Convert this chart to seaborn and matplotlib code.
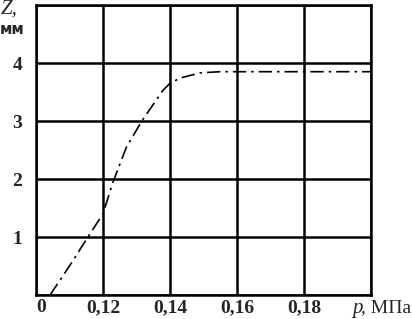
import numpy as np
import pandas as pd
import matplotlib
matplotlib.use("Agg")
import matplotlib.pyplot as plt
import seaborn as sns

# Curve (p in MPa, Z in mm); axis starts at "0" = 0.10
p_vals = [0.1042, 0.110, 0.1155, 0.120, 0.123, 0.127, 0.1316, 0.1379, 0.140, 0.143, 0.149, 0.155, 0.170, 0.200]
z_vals = [0.0, 0.50, 1.00, 1.40, 1.95, 2.55, 3.00, 3.53, 3.65, 3.74, 3.83, 3.85, 3.85, 3.85]
x_ticks = [0.10, 0.12, 0.14, 0.16, 0.18, 0.20]
x_labels = ["0", "0,12", "0,14", "0,16", "0,18", ""]
y_ticks = [0, 1, 2, 3, 4, 5]
y_labels = ["", "1", "2", "3", "4", ""]

df = pd.DataFrame({"p": p_vals, "Z": z_vals})

sns.set_style("white")
plt.rcParams["font.family"] = ["Liberation Serif", "DejaVu Serif"]

fig = plt.figure(figsize=(4.12, 3.19), dpi=100)
ax = fig.add_axes([36 / 412, 24 / 319, 335 / 412, 290 / 319])

sns.lineplot(data=df, x="p", y="Z", ax=ax, color="black", linewidth=1.2,
             linestyle=(0, (8, 3, 1.5, 3)))

ax.set_xlim(0.10, 0.20)
ax.set_ylim(0, 5)
ax.set_xticks(x_ticks)
ax.set_xticklabels(x_labels)
ax.set_yticks(y_ticks)
ax.set_yticklabels(y_labels)
ax.grid(True, color="black", linewidth=1.8)
ax.set_axisbelow(True)
for s in ax.spines.values():
    s.set_color("black")
    s.set_linewidth(1.8)
ax.tick_params(axis="x", length=0, labelsize=14, pad=3)
ax.tick_params(axis="y", length=0, labelsize=14, pad=10)
for lbl in ax.get_xticklabels() + ax.get_yticklabels():
    lbl.set_fontweight("bold")
ax.get_xticklabels()[0].set_horizontalalignment("left")

ax.set_xlabel("")
ax.set_ylabel("")

fig.text(1 / 412, 1 - 9 / 319, "Z,", fontsize=15, style="italic", ha="left", va="center")
fig.text(0 / 412, 1 - 29 / 319, "мм", fontsize=11, fontweight="bold",
         family=["DejaVu Sans"], ha="left", va="center")
fig.text(352 / 412, 1 - 308 / 319, "p", fontsize=15, style="italic", ha="left", va="center")
fig.text(361 / 412, 1 - 308 / 319, ", МПа", fontsize=14, ha="left", va="center")

fig.savefig("out.png", dpi=100)
